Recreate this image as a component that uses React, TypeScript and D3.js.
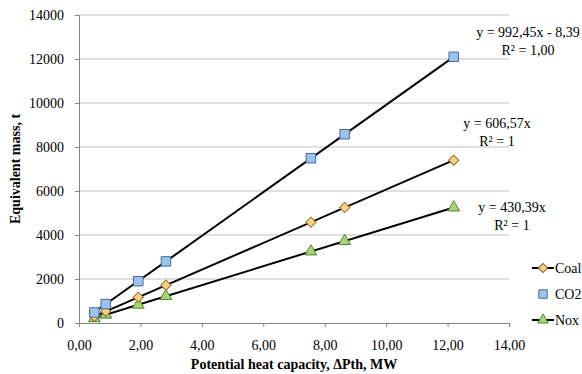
import * as d3 from "d3";
import React, { useRef, useEffect } from "react";

const W = 582;
const H = 374;
const margin = { top: 15, right: 73, bottom: 51, left: 79 };
const width = W - margin.left - margin.right;
const height = H - margin.top - margin.bottom;

// potential heat capacity, MW
const capacity = [0.5, 0.87, 1.93, 2.83, 7.55, 8.65, 12.2];
const coal = [300, 530, 1170, 1720, 4580, 5250, 7400];
const co2 = [480, 860, 1900, 2800, 7490, 8580, 12100];
const nox = [215, 375, 830, 1220, 3250, 3720, 5250];

const xTicks = [0, 2, 4, 6, 8, 10, 12, 14];
const yTicks = [0, 2000, 4000, 6000, 8000, 10000, 12000, 14000];

const trend = [
  { name: "CO2", slope: 992.45, icept: -8.39, eq: "y = 992,45x  - 8,39", r2: "R² = 1,00", lx: 528, ly: 37 },
  { name: "Coal", slope: 606.57, icept: 0, eq: "y = 606,57x", r2: "R² = 1", lx: 497, ly: 128 },
  { name: "Nox", slope: 430.39, icept: 0, eq: "y = 430,39x", r2: "R² = 1", lx: 512, ly: 212 },
];

const font = "Liberation Serif, Times New Roman, serif";

const sym = {
  Coal: { shape: d3.symbolSquare, size: 52, rot: 45, fill: "#fdd17e", stroke: "#8c6d2c" },
  CO2: { shape: d3.symbolSquare, size: 90, rot: 0, fill: "#9cc3ef", stroke: "#4a6a96" },
  Nox: { shape: d3.symbolTriangle, size: 60, rot: 0, fill: "#a5d76e", stroke: "#5b7c3a" },
};

export default function App() {
  const ref = useRef<SVGSVGElement>(null);

  useEffect(() => {
    const svg = d3.select(ref.current);
    svg.selectAll("*").remove();

    const x = d3.scaleLinear().domain([0, 14]).range([0, width]);
    const y = d3.scaleLinear().domain([0, 14000]).range([height, 0]);

    const g = svg.append("g").attr("transform", `translate(${margin.left},${margin.top})`);

    // gridlines
    g.selectAll(".grid")
      .data(yTicks.slice(1))
      .join("line")
      .attr("x1", 0)
      .attr("x2", width)
      .attr("y1", (d) => y(d))
      .attr("y2", (d) => y(d))
      .attr("stroke", "#c0c0c0")
      .attr("stroke-width", 1);

    // y axis
    const ya = g
      .append("g")
      .call(d3.axisLeft(y).tickValues(yTicks).tickSize(4).tickPadding(11).tickFormat(d3.format("d")));
    ya.attr("font-family", font).attr("font-size", 14);
    ya.select(".domain").attr("stroke", "#868686");
    ya.selectAll(".tick line").attr("stroke", "#868686");
    ya.selectAll("text").attr("fill", "#000");

    // x axis
    const xa = g
      .append("g")
      .attr("transform", `translate(0,${height})`)
      .call(
        d3.axisBottom(x).tickValues(xTicks).tickSize(4).tickPadding(13)
          .tickFormat((d) => d3.format(".2f")(d as number).replace(".", ","))
      );
    xa.attr("font-family", font).attr("font-size", 14);
    xa.select(".domain").attr("stroke", "#868686");
    xa.selectAll(".tick line").attr("stroke", "#868686");
    xa.selectAll("text").attr("fill", "#000");

    // trend lines
    const xmin = d3.min(capacity) as number;
    const xmax = d3.max(capacity) as number;
    trend.forEach((t) => {
      g.append("line")
        .attr("x1", x(xmin))
        .attr("y1", y(t.slope * xmin + t.icept))
        .attr("x2", x(xmax))
        .attr("y2", y(t.slope * xmax + t.icept))
        .attr("stroke", "#000")
        .attr("stroke-width", 2);
    });

    const series = [
      { name: "Nox", vals: nox },
      { name: "Coal", vals: coal },
      { name: "CO2", vals: co2 },
    ];
    series.forEach((s) => {
      const st = sym[s.name as keyof typeof sym];
      g.selectAll(null)
        .data(capacity.map((c, i) => [c, s.vals[i]]))
        .join("path")
        .attr("d", d3.symbol().type(st.shape).size(st.size)())
        .attr("transform", (d) => `translate(${x(d[0])},${y(d[1])}) rotate(${st.rot})`)
        .attr("fill", st.fill)
        .attr("stroke", st.stroke)
        .attr("stroke-width", 1);
    });

    // equations
    trend.forEach((t) => {
      const tx = svg.append("text")
        .attr("font-family", font)
        .attr("font-size", 14)
        .attr("text-anchor", "middle");
      tx.append("tspan").attr("x", t.lx).attr("y", t.ly).text(t.eq);
      tx.append("tspan").attr("x", t.lx).attr("y", t.ly + 18).text(t.r2);
    });

    // legend
    const leg = [
      { name: "Coal", line: true, y: 268 },
      { name: "CO2", line: false, y: 294 },
      { name: "Nox", line: true, y: 320 },
    ];
    leg.forEach((l) => {
      const st = sym[l.name as keyof typeof sym];
      if (l.line) {
        svg.append("line")
          .attr("x1", 532).attr("x2", 554).attr("y1", l.y).attr("y2", l.y)
          .attr("stroke", "#000").attr("stroke-width", 2);
      }
      svg.append("path")
        .attr("d", d3.symbol().type(st.shape).size(st.size * 0.8)())
        .attr("transform", `translate(543,${l.y}) rotate(${st.rot})`)
        .attr("fill", st.fill)
        .attr("stroke", st.stroke);
      svg.append("text")
        .attr("x", 555).attr("y", l.y + 5)
        .attr("font-family", font).attr("font-size", 14)
        .text(l.name);
    });

    // axis titles
    svg.append("text")
      .attr("transform", `translate(20,${margin.top + height / 2}) rotate(-90)`)
      .attr("text-anchor", "middle")
      .attr("font-family", font).attr("font-size", 14).attr("font-weight", "bold")
      .text("Equivalent  mass, t");
    svg.append("text")
      .attr("x", margin.left + width / 2)
      .attr("y", 369)
      .attr("text-anchor", "middle")
      .attr("font-family", font).attr("font-size", 14).attr("font-weight", "bold")
      .text("Potential heat capacity, ΔPth, MW");
  }, []);

  return (
    <div style={{ position: "absolute", left: 0, top: 0, background: "#fff" }}>
      <svg ref={ref} width={W} height={H} style={{ display: "block" }}></svg>
    </div>
  );
}
